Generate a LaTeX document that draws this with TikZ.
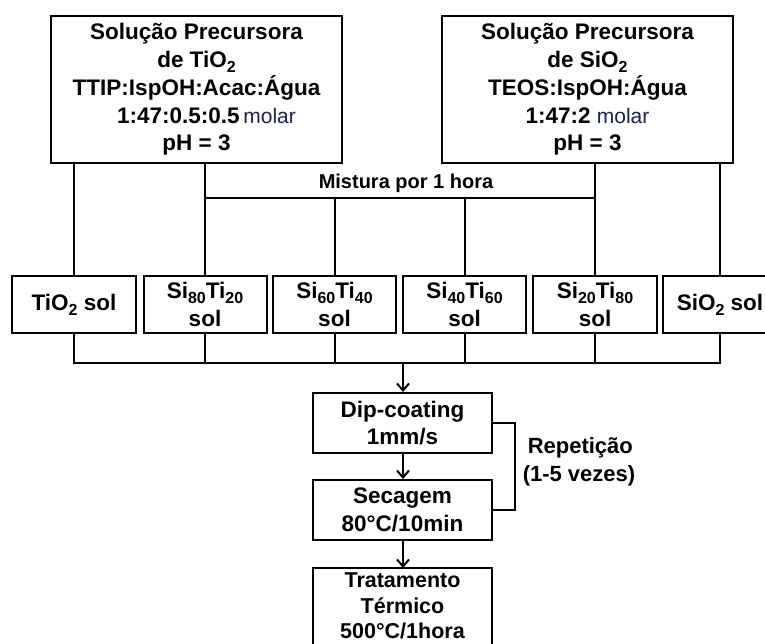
\documentclass[tikz,border=0pt]{standalone}
\usepackage{fontspec}
\setmainfont{Liberation Sans}
\usetikzlibrary{arrows.meta}
\definecolor{molarblue}{RGB}{25,35,85}
\newcommand\mysub[1]{\raisebox{-0.22em}{\fontsize{16}{16}\selectfont #1}}
\newcommand\molar{{\mdseries\fontsize{21}{21}\selectfont\color{molarblue}molar}}
\tikzset{
  box/.style={draw, line width=2pt, align=center, inner sep=0pt,
    font=\bfseries\fontsize{22.5}{27.7}\selectfont},
  wire/.style={line width=2pt},
  arr/.style={line width=2pt, -{Straight Barb[length=7pt,width=12pt,line width=2pt]}},
  lbl/.style={font=\bfseries\fontsize{20}{28}\selectfont, inner sep=0pt, align=left},
  replbl/.style={font=\bfseries\fontsize{22}{28}\selectfont, inner sep=0pt, align=left}
}
\begin{document}
\begin{tikzpicture}[x=1pt,y=-1pt]
\clip (0,0) rectangle (765,644);
\fill[white] (0,0) rectangle (765,644);
% top boxes
\node[box, minimum width=291, minimum height=147] (ti) at (196.5,89.5)
  {\rule{0pt}{6pt}Solução Precursora\\de TiO\mysub{2}\\TTIP:IspOH:Acac:Água\\\hspace*{20pt}1:47:0.5:0.5\,\molar\\pH = 3};
\node[box, minimum width=291, minimum height=147] (si) at (587.5,89.5)
  {\rule{0pt}{6pt}Solução Precursora\\de SiO\mysub{2}\\TEOS:IspOH:Água\\1:47:2 \molar\\pH = 3};
% sol boxes
\node[box, minimum width=124, minimum height=57] (s0) at (74,304.5) {TiO\mysub{2} sol};
\node[box, minimum width=123, minimum height=57] (s1) at (205,304.5) {Si\mysub{80}Ti\mysub{20}\\sol};
\node[box, minimum width=123, minimum height=57] (s2) at (334.5,304.5) {Si\mysub{60}Ti\mysub{40}\\sol};
\node[box, minimum width=123, minimum height=57] (s3) at (464.5,304.5) {Si\mysub{40}Ti\mysub{60}\\sol};
\node[box, minimum width=124, minimum height=57] (s4) at (595,304.5) {Si\mysub{20}Ti\mysub{80}\\sol};
\node[box, minimum width=114, minimum height=57] (s5) at (720,304.5) {SiO\mysub{2} sol};
% process boxes
\node[box, minimum width=179, minimum height=60] (dip) at (402.5,423) {Dip-coating\\1mm/s};
\node[box, minimum width=179, minimum height=60] (sec) at (402.5,510) {Secagem\\80°C/10min};
\coordinate (ttTL) at (313,568);
\coordinate (ttTR) at (492,568);
\coordinate (ttBL) at (313,665);
\coordinate (ttBR) at (492,665);
\node[box, draw=none, font=\bfseries\fontsize{21.5}{25.5}\selectfont] (tt) at (402.5,606) {Tratamento\\Térmico\\500°C/1hora};
\draw[wire] (ttBL) -- (ttTL) -- (ttTR) -- (ttBR);
% coordinates
\coordinate (mixL) at (205,198);
\coordinate (mixR) at (595,198);
\coordinate (colL) at (74,363);
\coordinate (colR) at (720,363);
\coordinate (colC) at (403,363);
\coordinate (repR) at (515,423);
% top connections
\draw[wire] (s0.north) -- (s0.north |- ti.south);
\draw[wire] (s5.north) -- (s5.north |- si.south);
\draw[wire] (s1.north) -- (s1.north |- ti.south);
\draw[wire] (s4.north) -- (s4.north |- si.south);
\draw[wire] (mixL) -- (mixR);
\draw[wire] (s2.north) -- (s2.north |- mixL);
\draw[wire] (s3.north) -- (s3.north |- mixL);
\node[lbl] (mixlbl) at (406,183) {Mistura por 1 hora};
% bottom collector
\draw[wire] (s0.south) -- (colL) -- (colR) -- (s5.south);
\draw[wire] (s1.south) -- (s1.south |- colL);
\draw[wire] (s2.south) -- (s2.south |- colL);
\draw[wire] (s3.south) -- (s3.south |- colL);
\draw[wire] (s4.south) -- (s4.south |- colL);
% arrows
\draw[arr] (colC) -- (colC |- dip.north);
\draw[arr] (dip.south -| colC) -- (sec.north -| colC);
\draw[arr] (sec.south -| colC) -- (colC |- ttTL);
% repetition bracket
\draw[wire] (dip.east) -- (repR) -- (repR |- sec.east) -- (sec.east);
\node[replbl] (rep) at (579,462) {\hspace*{5pt}Repetição\\(1-5 vezes)};
\end{tikzpicture}
\end{document}
